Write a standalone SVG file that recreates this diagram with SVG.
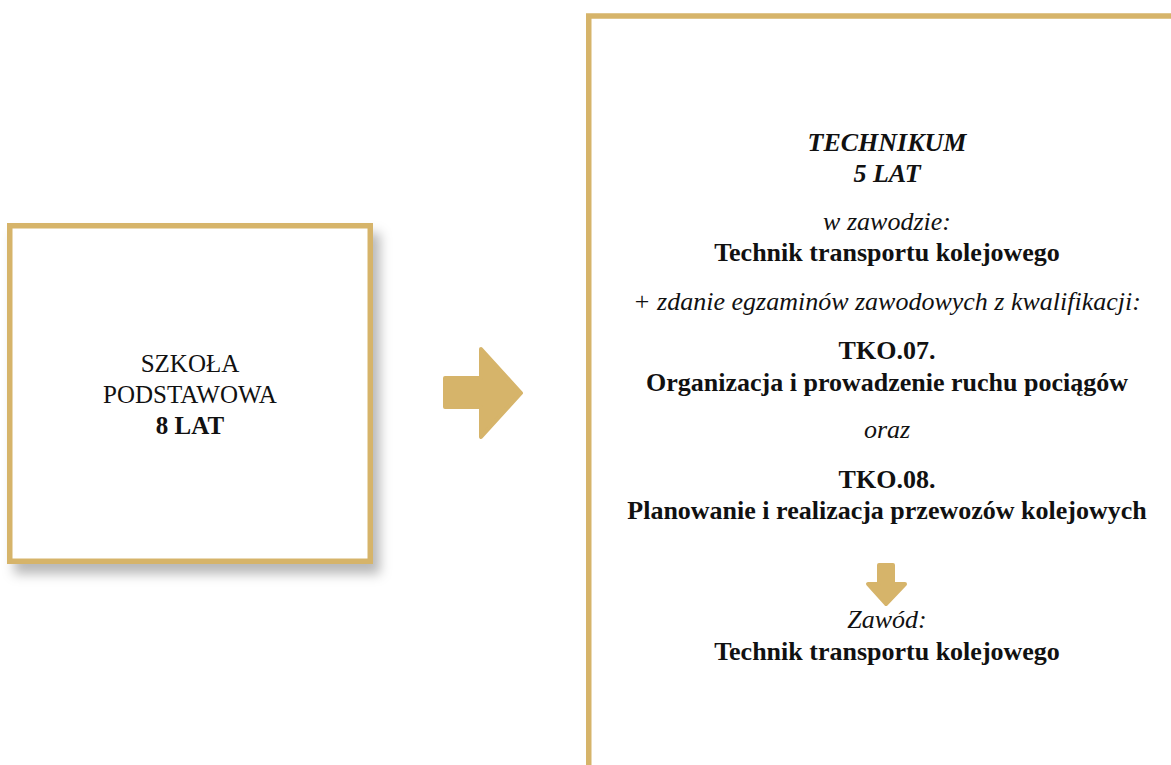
<svg xmlns="http://www.w3.org/2000/svg" width="1171" height="765" viewBox="0 0 1171 765">
<defs>
<filter id="shadow" x="-10%" y="-10%" width="130%" height="130%">
<feDropShadow dx="7" dy="10" stdDeviation="6" flood-color="#000" flood-opacity="0.28"/>
</filter>
</defs>
<style>
.box{fill:#fff;stroke:#D6B46A;stroke-width:5.5}
.arrow{fill:#D6B46A;stroke:#D6B46A;stroke-width:4;stroke-linejoin:round}
text{font-family:"Liberation Serif","Times New Roman",serif;fill:#111;text-anchor:middle}
.l{font-size:25px}
.t{font-size:26px}
.b{font-weight:bold}
.i{font-style:italic}
</style>
<rect width="1171" height="765" fill="#fff"/>
<g id="node-szkola">
<rect class="box" x="9.75" y="225.75" width="360.5" height="335.5" filter="url(#shadow)"/>
<text class="l" x="190" y="372">SZKOŁA</text>
<text class="l" x="190" y="403">PODSTAWOWA</text>
<text class="l b" x="190" y="434">8 LAT</text>
</g>
<g id="connectors">
<path class="arrow" d="M445,378 H481 V349 L521,393 L481,437 V407 H445 Z"/>
</g>
<g id="node-technikum">
<rect class="box" x="588.75" y="16" width="600" height="780"/>
<text class="t b i" x="887" y="151">TECHNIKUM</text>
<text class="t b i" x="887" y="182">5 LAT</text>
<text class="t i" x="887" y="230">w zawodzie:</text>
<text class="t b" x="887" y="261">Technik transportu kolejowego</text>
<text class="t i" x="887" y="310">+ zdanie egzaminów zawodowych z kwalifikacji:</text>
<text class="t b" x="887" y="359">TKO.07.</text>
<text class="t b" x="887" y="391">Organizacja i prowadzenie ruchu pociągów</text>
<text class="t i" x="887" y="438">oraz</text>
<text class="t b" x="887" y="488">TKO.08.</text>
<text class="t b" x="887" y="519">Planowanie i realizacja przewozów kolejowych</text>
<path class="arrow" d="M879,565 H893 V584 H905 L886,604 L868,584 H879 Z"/>
<text class="t i" x="887" y="628">Zawód:</text>
<text class="t b" x="887" y="660">Technik transportu kolejowego</text>
</g>
</svg>
